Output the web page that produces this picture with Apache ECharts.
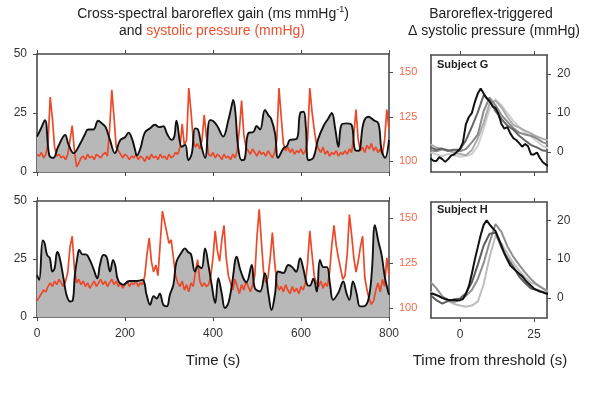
<!DOCTYPE html>
<html><head><meta charset="utf-8">
<script src="https://cdn.jsdelivr.net/npm/echarts@6/dist/echarts.min.js"></script>
<style>html,body{margin:0;padding:0;background:#fff}#c{width:591px;height:394px}</style>
</head><body><div id="c"></div>
<script>
// ---------- DATA ----------
const timeTicks = [0, 200, 400, 600, 800];
const gainTicks = [0, 25, 50];
const pressureTicks = [100, 125, 150];
const trigXTicks = [0, 25];
const trigYTicks = [0, 10, 20];

// Subject G (top) gain, black line
const gainTimeTop = [0,8,18,28,37,48,64,71,83,98,109,116,128,139,148,156,166,177,189,200,208,216,223,227,235,245,257,268,278,287,296,306,312,317,329,337,344,352,359,366,374,382,393,401,410,423,435,442,446,451,457,465,472,480,492,499,507,518,526,532,541,548,560,568,575,590,598,606,611,617,628,639,651,662,670,678,685,692,704,715,723,731,742,753,765,776,783,791,800];
const gainTop = [15,18,22,7,6,10.7,15.7,12,8,12,16,18,18,21.7,20.5,19,13.5,8,13.5,14.7,16.7,14,9.3,7,10,16.7,18.5,20,19,19.4,16,13.6,15,21.7,10.7,11.5,5,8,18.5,18,10.7,6,22,21.5,19.4,15,22,27.7,30.5,25,10.7,5,5.5,16.4,17,19.5,18,26.3,24,22.6,16.4,6,10,11,13.6,14,24.9,25.5,19,5,6,14,19.4,22.7,25,18,10.7,20,20.6,20,9.3,9,20.8,23.4,22,20.6,9.3,6,13.6];

// Subject H (bottom) gain, black line
const gainTimeBottom = [0,5,13,17,23,29,35,40,46,51,60,67,75,81,86,92,96,103,111,119,128,137,143,151,158,166,173,178,184,196,210,225,240,249,257,265,272,279,287,295,302,310,317,329,336,343,350,359,366,374,382,390,397,405,412,420,427,435,443,454,461,469,476,488,495,507,518,526,533,541,548,560,571,580,589,598,605,614,620,628,636,643,651,659,666,673,685,696,703,710,718,726,734,742,753,761,768,776,783,791,800];
const gainBottom = [18,16,33,32,26.7,25.5,19.6,21,28,26,17,9.6,6.7,7,18,26,28.9,27,27,25,21,16.7,22.4,26.7,26,19.6,24.6,22,16,13.9,15.5,15.5,16,9.6,5.3,9,8,10,5.3,4.6,9.6,13.9,23.8,28,29.6,28,27,19.6,22,21,29.6,22,13.9,6,16.7,10,3.9,6,13.9,26,21,16.7,15,22.4,12.5,11,18.9,10,3,10,19.6,19,22.4,21.5,19.5,25.3,21,13.9,13.5,16.5,11,24.6,21.5,21.5,13.9,7.4,10.5,15.3,10.5,7.4,15.3,10.5,4.6,4.6,7.4,19.6,39.6,32.4,27,16.7,9.6];

// systolic pressure, orange, sampled every 5 s
const pressureTime = [0,5,10,15,20,25,30,35,40,45,50,55,60,65,70,75,80,85,90,95,100,105,110,115,120,125,130,135,140,145,150,155,160,165,170,175,180,185,190,195,200,205,210,215,220,225,230,235,240,245,250,255,260,265,270,275,280,285,290,295,300,305,310,315,320,325,330,335,340,345,350,355,360,365,370,375,380,385,390,395,400,405,410,415,420,425,430,435,440,445,450,455,460,465,470,475,480,485,490,495,500,505,510,515,520,525,530,535,540,545,550,555,560,565,570,575,580,585,590,595,600,605,610,615,620,625,630,635,640,645,650,655,660,665,670,675,680,685,690,695,700,705,710,715,720,725,730,735,740,745,750,755,760,765,770,775,780,785,790,795,800];
const pressureTop = [104,103,105,102,104,110,136,124,108,103,
104,102,103,101,104,112,120,106,97,99,
102,103,101,104,102,103,101,104,103,102,
104,105,103,118,140,125,108,106,104,102,
104,103,101,103,102,104,101,103,102,100,
103,101,104,102,103,101,104,102,103,101,
104,102,103,105,104,108,121,109,112,141,
128,112,108,110,107,112,126,114,104,103,
105,102,104,103,101,104,102,103,101,104,
102,106,118,134,115,108,106,104,107,105,
103,106,104,105,103,106,104,102,105,112,
141,125,110,106,108,105,107,104,106,105,
107,104,106,112,141,128,118,110,107,105,
108,104,106,103,105,104,106,103,105,104,
106,104,107,105,115,129,112,106,108,105,
109,107,110,106,108,105,107,104,112,129,118];
const pressureBottom = [104,106,108,110,109,112,114,112,115,113,
116,114,112,115,120,134,140,122,114,116,
113,115,112,114,111,113,115,112,114,116,
113,115,112,114,116,113,115,112,114,111,
113,115,112,114,113,115,112,114,113,118,
130,139,126,120,124,118,136,154,148,142,
136,138,128,118,114,112,115,110,113,109,
114,112,120,127,115,112,114,112,113,118,
128,143,132,126,138,146,128,118,114,110,
116,112,108,113,110,115,112,109,113,118,
140,155,137,120,114,117,128,142,126,114,
110,112,109,113,110,108,112,109,111,108,
112,110,114,125,143,130,118,114,112,115,
111,114,112,120,135,146,135,128,122,116,
118,130,152,141,128,120,126,134,140,117,
110,105,102,104,110,114,109,116,112,128,118];

// triggered averages (time from threshold, s)
const trigT1 = [-10,-9,-8,-7,-6,-5,-4,-3,-2,-1,0,1,2,3,4,5,6,7,8,9,10,11,12,13,14,15,16,17,18,19,20,21,22,23,24,25,26,27,28,29,30];
const trigT2 = [-10,-8,-6,-4,-2,0,2,4,6,8,10,12,14,16,18,20,22,24,26,28,30];
// Subject G
const gBlack = [-1.6,-2.2,-2.3,-1.3,-1.8,-2.5,-1.8,-0.9,-0.6,0.1,0.8,2.5,7.2,9.0,10.0,12.8,15.0,16.3,15.0,13.8,13.0,11.8,11.3,9.8,7.2,6.0,6.4,4.8,3.6,3.1,2.3,1.4,2.1,1.5,-0.6,-0.6,-0.1,-1.5,-2.6,-3.2,-3.6];
const gDark = [1.2,0.6,0.9,0.4,0.6,0.7,3.0,6.5,10.2,14.6,13.3,10.5,8.5,6.8,5.8,4.2,3.0,1.8,1.2,0.4,0.3];
const gMid = [0.5,0.2,0.7,0.3,0.5,0.2,0.8,2.5,4.5,10.5,14.0,12.0,9.5,7.8,6.2,5.0,4.5,4.2,3.5,2.5,2.0];
const gLight = [2.0,1.2,0.8,0.4,-0.2,-0.5,-0.8,0.5,3.5,7.5,12.5,13.2,11.5,9.0,7.0,6.3,5.5,4.8,4.0,3.4,3.0];
const gLightest = [0.0,-0.6,-1.0,-0.5,-0.8,-1.2,-1.0,-0.5,1.5,6.0,11.0,13.5,12.0,10.0,8.0,6.5,5.0,4.0,2.8,1.5,1.0];
// Subject H
const hBlack = [1.1,1.0,0.7,0.4,0.0,-0.3,-0.5,-0.6,-0.5,-0.7,-0.6,-0.3,1.0,3.0,6.2,9.8,13.0,16.2,18.8,20.0,18.9,18.0,17.2,15.4,13.5,11.4,9.8,8.3,7.6,6.9,6.2,5.6,4.6,3.8,3.1,2.4,2.0,1.6,1.4,1.1,1.0];
const hDark = [0.7,-0.6,-1.5,-0.8,-0.4,-0.2,1.2,4.0,8.5,13.5,16.5,16.8,13.0,10.3,8.0,5.5,3.8,2.4,2.0,1.5,1.0];
const hMid = [4.1,2.5,0.4,-0.6,-1.1,-0.4,0.5,2.0,4.8,9.0,14.3,19.0,17.0,13.3,10.6,8.5,6.5,4.8,3.4,2.4,1.5];
const hLight = [1.5,0.8,0.0,-0.8,-1.6,-2.0,-2.3,-2.0,-1.0,3.5,10.5,16.0,14.0,11.5,9.0,7.0,5.3,3.9,3.4,2.5,1.5];

// ---------- CHART ----------
const FONT = 'Liberation Sans, Arial, Helvetica, sans-serif';
const AX = '#4a4a4a';
const ORANGE = '#ea4a2a';
const zip = (xs, ys) => xs.map((x, i) => [x, ys[i]]);

function xAxis(grid, pos, min, max, ticks, showLabel) {
  return {
    type: 'value', gridIndex: grid, position: pos, min: min, max: max,
    axisLine: {show: true, onZero: false, lineStyle: {color: AX, width: 1.6}},
    axisTick: {show: true, length: 4, customValues: ticks, lineStyle: {color: AX, width: 1}},
    axisLabel: {show: showLabel, customValues: ticks, margin: 11, fontSize: 12, color: '#333', fontFamily: FONT},
    splitLine: {show: false}
  };
}
function yAxis(grid, pos, min, max, ticks, showLabel, color, fs) {
  return {
    type: 'value', gridIndex: grid, position: pos, min: min, max: max,
    axisLine: {show: true, onZero: false, lineStyle: {color: AX, width: 1.6}},
    axisTick: {show: !!ticks, length: 4, customValues: ticks || [], lineStyle: {color: AX, width: 1}},
    axisLabel: {show: showLabel, customValues: ticks || [], margin: 10, fontSize: fs || 12, color: color || '#333', fontFamily: FONT},
    splitLine: {show: false}
  };
}

const option = {
  animation: false,
  backgroundColor: '#fff',
  textStyle: {fontFamily: FONT},
  grid: [
    {left: 37, top: 54, width: 352, height: 118},
    {left: 37, top: 201, width: 352, height: 116},
    {left: 431, top: 55, width: 116, height: 117},
    {left: 431, top: 202, width: 116, height: 116}
  ],
  xAxis: [
    xAxis(0, 'bottom', 0, 800, timeTicks, false),
    xAxis(0, 'top', 0, 800, timeTicks, false),
    xAxis(1, 'bottom', 0, 800, timeTicks, true),
    xAxis(1, 'top', 0, 800, timeTicks, false),
    xAxis(2, 'bottom', -9.8, 29.4, trigXTicks, false),
    xAxis(2, 'top', -9.8, 29.4, trigXTicks, false),
    xAxis(3, 'bottom', -9.8, 29.4, trigXTicks, true),
    xAxis(3, 'top', -9.8, 29.4, trigXTicks, false)
  ],
  yAxis: [
    yAxis(0, 'left', 0, 50, gainTicks, true, '#333', 12),
    yAxis(0, 'right', 94.1, 160.1, pressureTicks, true, '#f06a4c', 11),
    yAxis(1, 'left', 0, 50, gainTicks, true, '#333', 12),
    yAxis(1, 'right', 95, 159.6, pressureTicks, true, '#f06a4c', 11),
    yAxis(2, 'left', -5.1, 24.9, null, false),
    yAxis(2, 'right', -5.1, 24.9, trigYTicks, true, '#333', 12),
    yAxis(3, 'left', -5.2, 24.7, null, false),
    yAxis(3, 'right', -5.2, 24.7, trigYTicks, true, '#333', 12)
  ],
  series: [
    // top-left
    {type: 'line', xAxisIndex: 0, yAxisIndex: 0, data: zip(gainTimeTop, gainTop), smooth: 0.4, symbol: 'none',
     lineStyle: {width: 0}, areaStyle: {color: '#b8b8b8', opacity: 1}, z: 1},
    {type: 'line', xAxisIndex: 0, yAxisIndex: 1, data: zip(pressureTime, pressureTop), symbol: 'none',
     lineStyle: {color: ORANGE, width: 1.7}, z: 2},
    {type: 'line', xAxisIndex: 0, yAxisIndex: 0, data: zip(gainTimeTop, gainTop), smooth: 0.4, symbol: 'none',
     lineStyle: {color: '#111', width: 1.9}, z: 3},
    // bottom-left
    {type: 'line', xAxisIndex: 2, yAxisIndex: 2, data: zip(gainTimeBottom, gainBottom), smooth: 0.4, symbol: 'none',
     lineStyle: {width: 0}, areaStyle: {color: '#b8b8b8', opacity: 1}, z: 1},
    {type: 'line', xAxisIndex: 2, yAxisIndex: 3, data: zip(pressureTime, pressureBottom), symbol: 'none',
     lineStyle: {color: ORANGE, width: 1.7}, z: 2},
    {type: 'line', xAxisIndex: 2, yAxisIndex: 2, data: zip(gainTimeBottom, gainBottom), smooth: 0.4, symbol: 'none',
     lineStyle: {color: '#111', width: 1.9}, z: 3},
    // Subject G
    {type: 'line', xAxisIndex: 4, yAxisIndex: 5, data: zip(trigT2, gLightest), symbol: 'none', lineStyle: {color: '#cfcfcf', width: 2}, z: 2},
    {type: 'line', xAxisIndex: 4, yAxisIndex: 5, data: zip(trigT2, gLight), symbol: 'none', lineStyle: {color: '#ababab', width: 2}, z: 2},
    {type: 'line', xAxisIndex: 4, yAxisIndex: 5, data: zip(trigT2, gMid), symbol: 'none', lineStyle: {color: '#8a8a8a', width: 2}, z: 2},
    {type: 'line', xAxisIndex: 4, yAxisIndex: 5, data: zip(trigT2, gDark), symbol: 'none', lineStyle: {color: '#666', width: 2}, z: 2},
    {type: 'line', xAxisIndex: 4, yAxisIndex: 5, data: zip(trigT1, gBlack), symbol: 'none', lineStyle: {color: '#111', width: 2}, z: 3},
    // Subject H
    {type: 'line', xAxisIndex: 6, yAxisIndex: 7, data: zip(trigT2, hLight), symbol: 'none', lineStyle: {color: '#bdbdbd', width: 2}, z: 2},
    {type: 'line', xAxisIndex: 6, yAxisIndex: 7, data: zip(trigT2, hMid), symbol: 'none', lineStyle: {color: '#8f8f8f', width: 2}, z: 2},
    {type: 'line', xAxisIndex: 6, yAxisIndex: 7, data: zip(trigT2, hDark), symbol: 'none', lineStyle: {color: '#5e5e5e', width: 2}, z: 2},
    {type: 'line', xAxisIndex: 6, yAxisIndex: 7, data: zip(trigT1, hBlack), symbol: 'none', lineStyle: {color: '#111', width: 2}, z: 3}
  ],
  graphic: [
    {type: 'text', x: 213, y: 14, style: {
      text: '{m|Cross-spectral baroreflex gain (ms mmHg}{s|-1}{m|)}',
      align: 'center', verticalAlign: 'middle',
      rich: {m: {fontSize: 14, fontFamily: FONT, fill: '#222', lineHeight: 18, verticalAlign: 'middle'},
             s: {fontSize: 9, fontFamily: FONT, fill: '#222', lineHeight: 9, verticalAlign: 'top'}}}},
    {type: 'text', x: 212, y: 31, style: {
      text: '{m|and }{o|systolic pressure (mmHg)}',
      align: 'center', verticalAlign: 'middle',
      rich: {m: {fontSize: 14, fontFamily: FONT, fill: '#222'},
             o: {fontSize: 14, fontFamily: FONT, fill: '#f0502f'}}}},
    {type: 'text', x: 491, y: 14, style: {text: 'Baroreflex-triggered', align: 'center', verticalAlign: 'middle', fontSize: 14, fontFamily: FONT, fill: '#222'}},
    {type: 'text', x: 494, y: 31, style: {text: 'Δ systolic pressure (mmHg)', align: 'center', verticalAlign: 'middle', fontSize: 14, fontFamily: FONT, fill: '#222'}},
    {type: 'text', x: 213, y: 361, style: {text: 'Time (s)', align: 'center', verticalAlign: 'middle', fontSize: 15, fontFamily: FONT, fill: '#222'}},
    {type: 'text', x: 490, y: 361, style: {text: 'Time from threshold (s)', align: 'center', verticalAlign: 'middle', fontSize: 15, fontFamily: FONT, fill: '#222'}},
    {type: 'text', x: 437, y: 65, z: 10, style: {text: 'Subject G', align: 'left', verticalAlign: 'middle', fontSize: 11, fontWeight: 'bold', fontFamily: FONT, fill: '#222'}},
    {type: 'text', x: 437, y: 210, z: 10, style: {text: 'Subject H', align: 'left', verticalAlign: 'middle', fontSize: 11, fontWeight: 'bold', fontFamily: FONT, fill: '#222'}}
  ]
};
const chart = echarts.init(document.getElementById('c'));
chart.setOption(option);
</script>
</body></html>
